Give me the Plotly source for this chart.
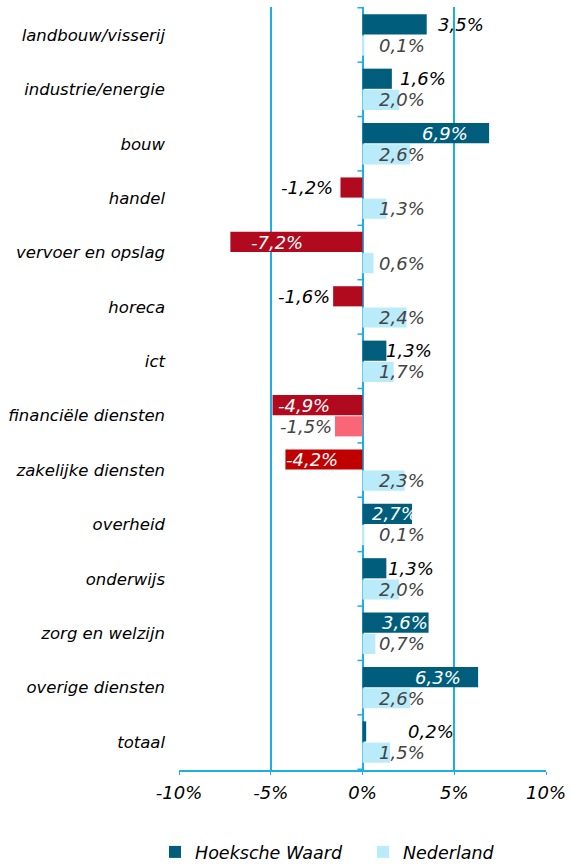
import plotly.graph_objects as go

categories = ["landbouw/visserij", "industrie/energie", "bouw", "handel",
              "vervoer en opslag", "horeca", "ict", "financiële diensten",
              "zakelijke diensten", "overheid", "onderwijs", "zorg en welzijn",
              "overige diensten", "totaal"]
hoeksche_waard = [3.5, 1.6, 6.9, -1.2, -7.2, -1.6, 1.3, -4.9, -4.2, 2.7, 1.3, 3.6, 6.3, 0.2]
nederland = [0.1, 2.0, 2.6, 1.3, 0.6, 2.4, 1.7, -1.5, 2.3, 0.1, 2.0, 0.7, 2.6, 1.5]
tick_values = [-10, -5, 0, 5, 10]
tick_labels = ["-10%", "-5%", "0%", "5%", "10%"]

# label styling for Hoeksche Waard labels: 'in' = inside bar, 'out' = outside,
# plus a small pixel nudge for the outside ones
hw_label_pos = ["out", "out", "in", "out", "in", "out", "out", "in", "in", "in", "out", "in", "in", "out"]
hw_label_nudge = [9, 6, 0, 5, 0, 1, -2, 0, 0, 0, 0, 0, 0, 40]

C_HW = "#005E7C"
C_NL = "#B9EBFA"
C_RED = "#B10A1E"
C_RED2 = "#C00000"
C_PINK = "#F96677"
C_GRID = "#1DAFE3"
FONT = "DejaVu Sans"


def fmt(v):
    return f"{v:.1f}".replace(".", ",") + "%"


hw_colors = []
for c, v in zip(categories, hoeksche_waard):
    if v >= 0:
        hw_colors.append(C_HW)
    elif c == "zakelijke diensten":
        hw_colors.append(C_RED2)
    else:
        hw_colors.append(C_RED)
nl_colors = [C_NL if v >= 0 else C_PINK for v in nederland]

fig = go.Figure()
fig.add_trace(go.Bar(name="Hoeksche Waard", y=categories, x=hoeksche_waard,
                     orientation="h", legend="legend",
                     marker=dict(color=hw_colors, line=dict(width=0))))
fig.add_trace(go.Bar(name="Nederland", y=categories, x=nederland,
                     orientation="h", legend="legend2",
                     marker=dict(color=nl_colors, line=dict(width=0))))

annotations = []
LBL = 18
for c, v, pos, nudge in zip(categories, hoeksche_waard, hw_label_pos, hw_label_nudge):
    if pos == "in":
        color = "white"
        x, xa, xs = v * 0.65, "center", 0
    else:
        color = "black"
        x = v
        if v >= 0:
            xa, xs = "left", nudge
        else:
            xa, xs = "right", -nudge
    annotations.append(dict(x=x, y=c, xref="x", yref="y", text=fmt(v), showarrow=False,
                            xanchor=xa, xshift=xs, yshift=10.5,
                            font=dict(family=FONT, size=LBL, color=color, style="italic")))
for c, v in zip(categories, nederland):
    if v >= 0:
        x, xa, xs = 0, "left", 14
    else:
        x, xa, xs = v, "right", -1
    annotations.append(dict(x=x, y=c, xref="x", yref="y", text=fmt(v), showarrow=False,
                            xanchor=xa, xshift=xs, yshift=-10.5,
                            font=dict(family=FONT, size=LBL, color="#444444", style="italic")))

shapes = []
for i in range(len(categories) + 1):
    shapes.append(dict(type="line", xref="x", yref="y", xsizemode="pixel", xanchor=0,
                       x0=-5, x1=0, y0=i - 0.5, y1=i - 0.5,
                       line=dict(color=C_GRID, width=1.5)))

legend_style = dict(orientation="h", yanchor="middle", xanchor="left", y=-0.1075,
                    bgcolor="rgba(0,0,0,0)",
                    font=dict(family=FONT, size=17.5, color="black", style="italic"))

fig.update_layout(
    width=571, height=864,
    margin=dict(l=179, r=25, t=7, b=94, autoexpand=False),
    paper_bgcolor="white", plot_bgcolor="white",
    barmode="group", bargap=0.22, bargroupgap=0.05,
    font=dict(family=FONT, size=17, color="black", style="italic"),
    xaxis=dict(range=[-10, 10], tickvals=tick_values, ticktext=tick_labels,
               showgrid=True, gridcolor=C_GRID, gridwidth=1.5,
               zeroline=True, zerolinecolor=C_GRID, zerolinewidth=1.5,
               showline=True, linecolor=C_GRID, linewidth=1.5,
               ticks="outside", ticklen=3, tickcolor=C_GRID, ticklabelstandoff=3,
               tickfont=dict(family=FONT, size=18, color="black", style="italic"),
               fixedrange=True),
    yaxis=dict(type="category", autorange="reversed", showgrid=False, zeroline=False,
               showline=False, ticks="", ticklabelstandoff=13,
               tickfont=dict(family=FONT, size=16.5, color="black", style="italic"),
               fixedrange=True),
    showlegend=True,
    legend=dict(legend_style, x=-0.0654),
    legend2=dict(legend_style, x=0.5014),
    annotations=annotations,
    shapes=shapes,
)

fig.write_html("out.html", config={"displayModeBar": False},
               post_script="document.body.style.margin='0';")
